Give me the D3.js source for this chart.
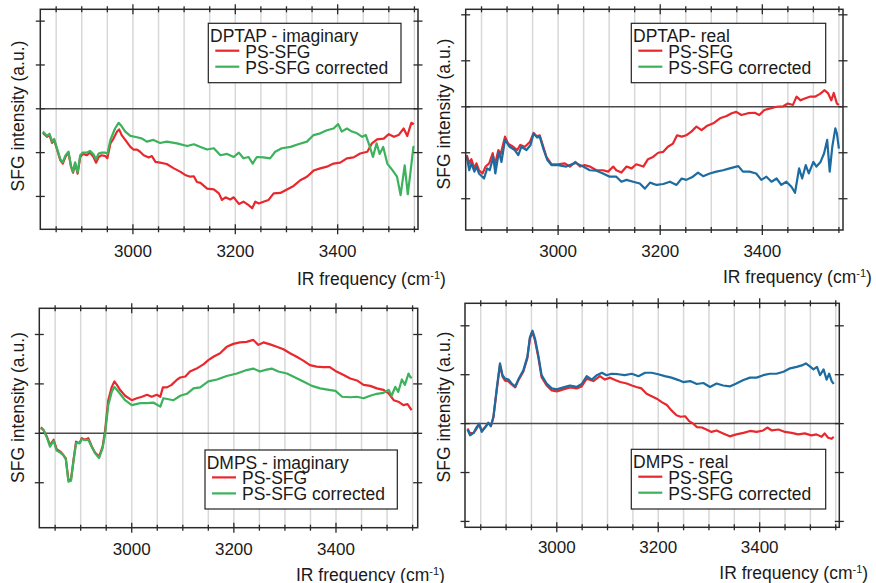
<!DOCTYPE html>
<html>
<head>
<meta charset="utf-8">
<script src="https://cdn.jsdelivr.net/npm/d3@7"></script>
<style>
  body { margin: 0; background: #fff; }
  svg { display: block; font-family: "Liberation Sans", Arial, sans-serif; }
</style>
</head>
<body>
<div id="chart"></div>
<script>
// values: [IR frequency (cm-1), SFG intensity (a.u.)]
const dptapImagPs = [[2824,-0.55],[2832,-0.64],[2837,-0.6],[2842,-0.78],[2846,-0.71],[2851,-0.9],[2858,-1.17],[2863,-1.25],[2868,-1.1],[2874,-1.0],[2879,-1.32],[2883,-1.46],[2887,-1.25],[2892,-1.48],[2897,-1.1],[2902,-1.03],[2910,-1.06],[2916,-1.0],[2923,-1.1],[2928,-1.23],[2933,-1.1],[2939,-1.06],[2946,-1.08],[2950,-1.13],[2956,-0.79],[2962,-0.68],[2969,-0.52],[2973,-0.47],[2978,-0.6],[2985,-0.71],[2995,-0.87],[3001,-0.93],[3008,-0.93],[3014,-0.98],[3021,-1.06],[3031,-1.11],[3037,-1.08],[3044,-1.21],[3053,-1.23],[3066,-1.26],[3080,-1.36],[3093,-1.44],[3102,-1.51],[3112,-1.55],[3119,-1.54],[3125,-1.67],[3132,-1.69],[3145,-1.82],[3158,-1.84],[3168,-1.93],[3174,-2.08],[3181,-2.02],[3190,-2.07],[3197,-2.02],[3207,-2.17],[3216,-2.12],[3226,-2.2],[3233,-2.27],[3239,-2.12],[3246,-2.16],[3255,-2.12],[3265,-2.08],[3275,-1.93],[3288,-1.92],[3301,-1.84],[3314,-1.76],[3327,-1.63],[3340,-1.55],[3353,-1.41],[3366,-1.36],[3379,-1.32],[3392,-1.25],[3405,-1.23],[3418,-1.13],[3431,-1.11],[3444,-1.02],[3458,-0.98],[3467,-0.79],[3477,-0.7],[3490,-0.68],[3500,-0.58],[3510,-0.64],[3519,-0.6],[3529,-0.45],[3536,-0.62],[3544,-0.32],[3549,-0.35]];
const dptapImagCorr = [[2824,-0.52],[2832,-0.62],[2837,-0.57],[2842,-0.75],[2846,-0.69],[2851,-0.88],[2858,-1.15],[2863,-1.22],[2868,-1.07],[2874,-0.98],[2879,-1.3],[2883,-1.44],[2887,-1.22],[2892,-1.45],[2897,-1.06],[2902,-1.0],[2910,-1.0],[2916,-0.96],[2923,-1.04],[2928,-1.15],[2933,-1.02],[2939,-1.0],[2946,-1.0],[2950,-1.03],[2956,-0.71],[2965,-0.45],[2972,-0.32],[2978,-0.4],[2985,-0.52],[2995,-0.62],[3008,-0.65],[3018,-0.68],[3027,-0.75],[3040,-0.71],[3053,-0.78],[3066,-0.75],[3086,-0.79],[3106,-0.85],[3119,-0.81],[3132,-0.87],[3145,-0.93],[3158,-0.9],[3171,-1.06],[3184,-1.03],[3197,-1.1],[3207,-1.0],[3216,-1.13],[3226,-1.1],[3234,-1.25],[3242,-1.1],[3255,-1.11],[3268,-1.13],[3278,-0.98],[3291,-0.9],[3308,-0.87],[3323,-0.81],[3340,-0.75],[3353,-0.6],[3366,-0.56],[3379,-0.49],[3392,-0.45],[3401,-0.35],[3408,-0.52],[3418,-0.45],[3428,-0.52],[3438,-0.56],[3448,-0.64],[3455,-0.6],[3463,-0.87],[3469,-1.1],[3476,-0.79],[3482,-1.03],[3489,-0.87],[3497,-1.25],[3507,-1.4],[3516,-1.55],[3523,-1.97],[3531,-1.29],[3537,-1.95],[3542,-1.48],[3548,-0.87],[3550,-0.87]];

const dptapRealPs = [[2821,-1.05],[2826,-1.23],[2830,-1.14],[2836,-1.34],[2840,-1.23],[2845,-1.38],[2852,-1.45],[2858,-1.3],[2865,-1.23],[2872,-1.01],[2876,-1.27],[2883,-0.94],[2887,-1.05],[2896,-0.65],[2902,-0.8],[2912,-0.87],[2920,-0.94],[2926,-0.83],[2935,-0.87],[2945,-0.76],[2952,-0.57],[2958,-0.64],[2964,-0.62],[2971,-0.87],[2977,-1.09],[2987,-1.25],[3000,-1.25],[3013,-1.23],[3023,-1.3],[3034,-1.2],[3043,-1.3],[3052,-1.27],[3062,-1.3],[3075,-1.38],[3088,-1.38],[3098,-1.41],[3108,-1.3],[3114,-1.38],[3124,-1.43],[3134,-1.3],[3144,-1.34],[3153,-1.25],[3167,-1.3],[3176,-1.14],[3186,-1.09],[3196,-1.0],[3206,-0.98],[3215,-0.87],[3225,-0.8],[3233,-0.62],[3242,-0.65],[3251,-0.62],[3261,-0.54],[3271,-0.43],[3281,-0.51],[3291,-0.42],[3304,-0.36],[3317,-0.25],[3330,-0.2],[3340,-0.14],[3349,-0.11],[3359,-0.18],[3372,-0.14],[3385,-0.13],[3394,-0.18],[3404,-0.07],[3414,-0.04],[3428,0],[3441,0.01],[3450,0.07],[3460,0.04],[3467,0.22],[3475,0.14],[3483,0.18],[3493,0.22],[3503,0.22],[3513,0.28],[3522,0.36],[3529,0.29],[3535,0.14],[3540,0.3],[3546,0.07],[3550,0.04]];
const dptapRealCorr = [[2821,-1.09],[2826,-1.38],[2830,-1.23],[2836,-1.41],[2840,-1.3],[2845,-1.45],[2855,-1.56],[2861,-1.34],[2866,-1.38],[2873,-1.09],[2877,-1.45],[2884,-0.98],[2889,-1.2],[2896,-0.72],[2905,-0.87],[2915,-0.94],[2922,-1.05],[2928,-0.87],[2938,-0.94],[2946,-0.83],[2952,-0.58],[2959,-0.67],[2964,-0.65],[2971,-0.91],[2979,-1.16],[2987,-1.27],[3000,-1.27],[3016,-1.3],[3034,-1.22],[3049,-1.3],[3062,-1.38],[3075,-1.39],[3088,-1.45],[3101,-1.52],[3114,-1.52],[3124,-1.63],[3134,-1.59],[3147,-1.63],[3160,-1.67],[3170,-1.78],[3180,-1.65],[3193,-1.7],[3206,-1.68],[3219,-1.63],[3232,-1.7],[3242,-1.56],[3251,-1.59],[3264,-1.52],[3274,-1.43],[3284,-1.51],[3297,-1.45],[3310,-1.41],[3323,-1.38],[3336,-1.34],[3353,-1.29],[3362,-1.41],[3375,-1.41],[3388,-1.45],[3398,-1.59],[3408,-1.52],[3418,-1.63],[3428,-1.56],[3437,-1.7],[3447,-1.63],[3457,-1.74],[3464,-1.87],[3472,-1.34],[3478,-1.56],[3485,-1.27],[3491,-1.45],[3500,-1.2],[3506,-1.3],[3514,-1.2],[3521,-1.01],[3527,-0.72],[3532,-1.41],[3537,-0.87],[3543,-0.47],[3546,-0.58],[3550,-0.91]];

const dmpsImagPs = [[2822,0.12],[2827,0.07],[2834,-0.07],[2840,-0.24],[2847,-0.13],[2853,-0.32],[2860,-0.37],[2866,-0.44],[2871,-0.51],[2876,-0.94],[2881,-0.94],[2886,-0.54],[2891,-0.17],[2898,-0.2],[2902,-0.1],[2909,-0.13],[2915,-0.1],[2922,-0.27],[2928,-0.39],[2936,-0.47],[2943,-0.27],[2948,0.07],[2954,0.67],[2961,0.94],[2966,1.05],[2971,0.98],[2977,0.88],[2987,0.76],[3000,0.67],[3010,0.71],[3020,0.74],[3030,0.78],[3039,0.74],[3049,0.78],[3056,0.74],[3061,0.93],[3069,0.93],[3078,0.98],[3088,1.08],[3095,1.13],[3105,1.15],[3114,1.25],[3127,1.31],[3141,1.4],[3150,1.48],[3160,1.55],[3173,1.62],[3186,1.75],[3199,1.81],[3212,1.84],[3225,1.85],[3238,1.89],[3248,1.79],[3258,1.84],[3271,1.8],[3284,1.75],[3297,1.7],[3310,1.62],[3323,1.55],[3336,1.47],[3349,1.38],[3362,1.35],[3375,1.34],[3388,1.34],[3401,1.25],[3415,1.18],[3428,1.11],[3441,1.07],[3454,0.98],[3467,0.96],[3480,0.91],[3493,0.88],[3503,0.81],[3513,0.67],[3522,0.64],[3532,0.57],[3540,0.59],[3548,0.47]];
const dmpsImagCorr = [[2822,0.1],[2827,0.07],[2834,-0.09],[2840,-0.27],[2847,-0.15],[2853,-0.35],[2860,-0.39],[2866,-0.44],[2871,-0.53],[2876,-0.98],[2881,-0.96],[2886,-0.56],[2891,-0.2],[2898,-0.2],[2902,-0.12],[2909,-0.14],[2915,-0.13],[2922,-0.28],[2928,-0.4],[2936,-0.5],[2943,-0.3],[2948,0.0],[2954,0.57],[2961,0.84],[2966,0.94],[2974,0.84],[2987,0.67],[3000,0.57],[3017,0.61],[3030,0.61],[3043,0.62],[3056,0.54],[3062,0.71],[3082,0.67],[3095,0.76],[3108,0.8],[3121,0.91],[3134,0.93],[3150,1.05],[3167,1.09],[3186,1.16],[3206,1.21],[3225,1.28],[3238,1.31],[3251,1.25],[3264,1.29],[3274,1.31],[3287,1.25],[3304,1.21],[3320,1.13],[3336,1.05],[3353,0.96],[3369,0.91],[3386,0.88],[3399,0.86],[3412,0.74],[3428,0.73],[3441,0.74],[3454,0.71],[3467,0.76],[3480,0.8],[3493,0.82],[3503,0.88],[3509,0.76],[3516,0.94],[3522,0.84],[3529,1.09],[3535,0.98],[3542,1.21],[3546,1.13],[3549,1.13]];

const dmpsRealPs = [[2824,-0.1],[2829,-0.2],[2836,-0.19],[2842,-0.1],[2847,-0.02],[2852,-0.15],[2859,-0.07],[2865,0.02],[2870,-0.05],[2875,0.12],[2882,0.72],[2888,1.2],[2893,0.96],[2898,0.88],[2905,0.86],[2911,0.8],[2918,0.74],[2924,0.88],[2934,1.06],[2942,1.34],[2947,1.74],[2952,1.87],[2957,1.7],[2964,1.33],[2970,0.95],[2980,0.78],[2990,0.68],[3000,0.66],[3013,0.7],[3026,0.74],[3039,0.72],[3049,0.76],[3059,0.92],[3072,0.87],[3085,0.97],[3095,0.9],[3105,0.94],[3115,0.89],[3125,0.85],[3138,0.82],[3148,0.78],[3157,0.75],[3167,0.72],[3177,0.61],[3187,0.56],[3197,0.51],[3207,0.44],[3217,0.38],[3226,0.27],[3236,0.17],[3244,0.14],[3253,0.15],[3261,0.05],[3269,0.0],[3276,-0.07],[3286,-0.08],[3295,-0.12],[3305,-0.17],[3315,-0.14],[3328,-0.2],[3341,-0.26],[3354,-0.22],[3368,-0.19],[3381,-0.15],[3394,-0.17],[3407,-0.14],[3415,-0.08],[3424,-0.14],[3437,-0.12],[3450,-0.17],[3463,-0.19],[3476,-0.22],[3489,-0.2],[3502,-0.24],[3512,-0.22],[3522,-0.27],[3528,-0.2],[3535,-0.29],[3542,-0.31],[3546,-0.27]];
const dmpsRealCorr = [[2824,-0.12],[2829,-0.24],[2836,-0.19],[2842,-0.07],[2847,0.0],[2852,-0.17],[2859,-0.07],[2865,0.01],[2870,-0.05],[2875,0.14],[2882,0.75],[2888,1.23],[2893,0.99],[2898,0.92],[2905,0.9],[2911,0.82],[2918,0.76],[2924,0.9],[2934,1.09],[2942,1.37],[2947,1.77],[2952,1.9],[2957,1.74],[2964,1.37],[2970,0.99],[2980,0.82],[2990,0.72],[3000,0.7],[3013,0.74],[3026,0.78],[3039,0.75],[3049,0.81],[3059,0.97],[3069,0.9],[3079,0.99],[3089,1.04],[3098,0.99],[3108,1.02],[3121,1.01],[3134,0.99],[3148,1.02],[3161,0.97],[3174,1.04],[3187,1.04],[3200,1.01],[3213,0.97],[3226,0.94],[3240,0.89],[3249,0.85],[3263,0.87],[3276,0.81],[3289,0.83],[3302,0.75],[3315,0.82],[3328,0.78],[3341,0.76],[3354,0.82],[3368,0.89],[3381,0.94],[3394,0.94],[3407,0.99],[3420,1.02],[3433,1.02],[3447,1.06],[3460,1.13],[3473,1.16],[3483,1.19],[3491,1.23],[3499,1.17],[3506,1.11],[3513,1.16],[3519,0.99],[3526,1.11],[3532,0.9],[3537,1.02],[3542,0.87],[3546,0.81]];

const gridFreqs = [2850, 2900, 2950, 3000, 3050, 3100, 3150, 3200, 3250, 3300, 3350, 3400, 3450, 3500, 3550];
const labelFreqs = [3000, 3200, 3400];
const seriesNames = ["PS-SFG", "PS-SFG corrected"];

const RED = "#e8282d", GREEN = "#3bb25b", BLUE = "#1c6ca1";

const panels = [
    { title: "DPTAP - imaginary", ps: dptapImagPs, corr: dptapImagCorr, corrColor: GREEN,
      box: { l: 40.3, r: 418, t: 9.3, b: 229.3 }, xDom: [2819, 3557], yDom: [-2.75, 2.27], yTicks: [-2, -1, 0, 1, 2],
      legend: { x: 208.3, y: 23.3, w: 192.7, h: 59.4 }, yLab: [23.5, 116], xLab: [297, 285], tickY: 257.3 },
    { title: "DPTAP- real", ps: dptapRealPs, corr: dptapRealCorr, corrColor: BLUE,
      box: { l: 465.7, r: 843, t: 9.3, b: 230 }, xDom: [2819, 3558], yDom: [-2.68, 2.12], yTicks: [-2, -1, 0, 1, 2],
      legend: { x: 631.3, y: 23.3, w: 194.4, h: 59.4 }, yLab: [449.5, 114], xLab: [723, 283], tickY: 257.3 },
    { title: "DMPS - imaginary", ps: dmpsImagPs, corr: dmpsImagCorr, corrColor: GREEN,
      box: { l: 39.3, r: 417.7, t: 308.3, b: 527.7 }, xDom: [2819, 3560], yDom: [-1.91, 2.53], yTicks: [-1, 0, 1, 2],
      legend: { x: 205, y: 450, w: 192.3, h: 59 }, yLab: [23.5, 407.5], xLab: [296, 580.5], tickY: 555 },
    { title: "DMPS - real", ps: dmpsRealPs, corr: dmpsRealCorr, corrColor: BLUE,
      box: { l: 465, r: 839.3, t: 303.3, b: 527.3 }, xDom: [2819, 3557], yDom: [-2.12, 2.46], yTicks: [-2, -1, 0, 1, 2],
      legend: { x: 631.3, y: 449.3, w: 194.4, h: 59.7 }, yLab: [449.5, 407], xLab: [719.3, 579.3], tickY: 553.3 }
];

const svg = d3.select("#chart").append("svg")
    .attr("width", 876)
    .attr("height", 583);

svg.append("rect").attr("width", 876).attr("height", 583).attr("fill", "#fff");

function drawPanel(p, i) {
    const b = p.box;
    const x = d3.scaleLinear().domain(p.xDom).range([b.l, b.r]);
    const y = d3.scaleLinear().domain(p.yDom).range([b.b, b.t]);
    const g = svg.append("g");

    g.append("clipPath").attr("id", `clip${i}`)
        .append("rect")
        .attr("x", b.l).attr("y", b.t)
        .attr("width", b.r - b.l).attr("height", b.b - b.t);

    // vertical grid
    g.selectAll("line.grid").data(gridFreqs).enter().append("line")
        .attr("class", "grid")
        .attr("x1", d => x(d)).attr("x2", d => x(d))
        .attr("y1", b.t).attr("y2", b.b)
        .attr("stroke", "#d8d8d8").attr("stroke-width", 1.5);

    // zero line
    g.append("line")
        .attr("x1", b.l).attr("x2", b.r)
        .attr("y1", y(0)).attr("y2", y(0))
        .attr("stroke", "#4a4a4a").attr("stroke-width", 1.5);

    const line = d3.line().x(d => x(d[0])).y(d => y(d[1]));
    const curves = g.append("g").attr("clip-path", `url(#clip${i})`);
    curves.append("path").datum(p.ps)
        .attr("d", line).attr("fill", "none")
        .attr("stroke", RED).attr("stroke-width", 2.2).attr("stroke-linejoin", "round");
    curves.append("path").datum(p.corr)
        .attr("d", line).attr("fill", "none")
        .attr("stroke", p.corrColor).attr("stroke-width", 2.2).attr("stroke-linejoin", "round");

    // frame
    g.append("rect")
        .attr("x", b.l).attr("y", b.t)
        .attr("width", b.r - b.l).attr("height", b.b - b.t)
        .attr("fill", "none").attr("stroke", "#2a2a2a").attr("stroke-width", 1.5);

    // ticks across top and bottom edges
    [b.t, b.b].forEach(edge => {
        g.selectAll(null).data(gridFreqs).enter().append("line")
            .attr("x1", d => x(d)).attr("x2", d => x(d))
            .attr("y1", d => edge - (labelFreqs.includes(d) ? 5 : 3))
            .attr("y2", d => edge + (labelFreqs.includes(d) ? 5 : 3))
            .attr("stroke", "#2a2a2a").attr("stroke-width", 1.3);
    });
    // ticks across left and right edges
    [b.l, b.r].forEach(edge => {
        g.selectAll(null).data(p.yTicks).enter().append("line")
            .attr("x1", edge - 4.5).attr("x2", edge + 4.5)
            .attr("y1", d => y(d)).attr("y2", d => y(d))
            .attr("stroke", "#2a2a2a").attr("stroke-width", 1.3);
    });

    g.selectAll("text.tick").data(labelFreqs).enter().append("text")
        .attr("class", "tick")
        .attr("x", d => x(d)).attr("y", p.tickY)
        .attr("text-anchor", "middle")
        .style("font-size", "17px").attr("fill", "#1a1a1a")
        .text(d => d);

    const xl = g.append("text")
        .attr("x", p.xLab[0]).attr("y", p.xLab[1])
        .style("font-size", "17.5px").attr("fill", "#1a1a1a");
    xl.append("tspan").text("IR frequency (cm");
    xl.append("tspan").attr("dy", -6).style("font-size", "11px").text("-1");
    xl.append("tspan").attr("dy", 6).text(")");

    g.append("text")
        .attr("transform", `translate(${p.yLab[0]},${p.yLab[1]}) rotate(-90)`)
        .attr("text-anchor", "middle")
        .style("font-size", "17.5px").attr("fill", "#1a1a1a")
        .text("SFG intensity (a.u.)");

    // legend
    const L = p.legend;
    const lg = g.append("g").attr("transform", `translate(${L.x},${L.y})`);
    lg.append("rect").attr("width", L.w).attr("height", L.h)
        .attr("fill", "#fff").attr("stroke", "#222").attr("stroke-width", 1.2);
    lg.append("text").attr("x", 1.7).attr("y", 18.7)
        .style("font-size", "17.5px").attr("fill", "#1a1a1a").text(p.title);
    const items = lg.selectAll("g.item").data(seriesNames).enter().append("g")
        .attr("class", "item")
        .attr("transform", (d, k) => `translate(0,${27.4 + k * 16})`);
    items.append("line")
        .attr("x1", 7).attr("x2", 31).attr("y1", 0).attr("y2", 0)
        .attr("stroke", (d, k) => k === 0 ? RED : GREEN).attr("stroke-width", 2.2);
    items.append("text").attr("x", 37).attr("y", 6.8)
        .style("font-size", "17.5px").attr("fill", "#1a1a1a").text(d => d);
}

panels.forEach(drawPanel);
</script>
</body>
</html>
